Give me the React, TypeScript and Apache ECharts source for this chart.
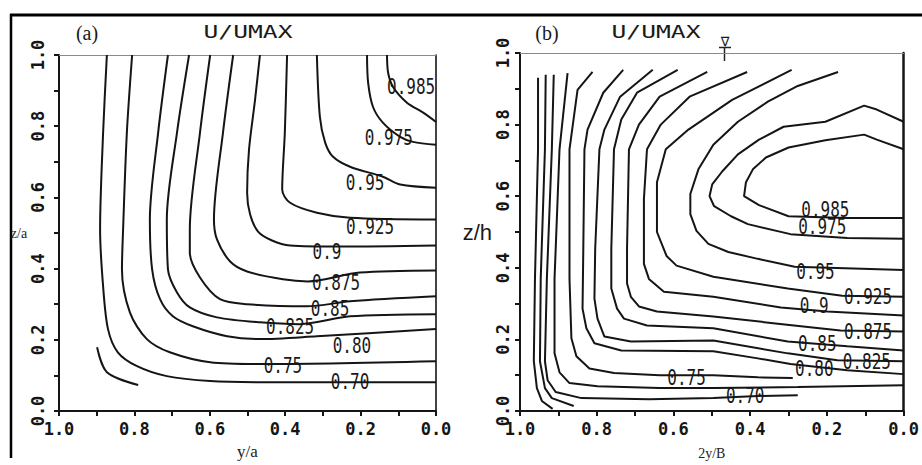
import React, { useEffect, useRef } from "react";
import * as echarts from "echarts";

// ---------- tick labels ----------
const tickLabels = ["0.0", "0.2", "0.4", "0.6", "0.8", "1.0"];

// ---------- panel (a): contour lines  [y/a, z/a] ----------
const a070 = [[0.873,1.0],[0.883,0.782],[0.891,0.510],[0.883,0.350],[0.870,0.230],[0.844,0.165],[0.793,0.126],[0.714,0.098],[0.599,0.084],[0.467,0.081],[0,0.081]];
const a075 = [[0.806,1.0],[0.820,0.782],[0.830,0.510],[0.833,0.398],[0.812,0.277],[0.767,0.202],[0.706,0.165],[0.599,0.137],[0.467,0.132],[0,0.140]];
const a080 = [[0.711,1.0],[0.737,0.782],[0.759,0.538],[0.753,0.398],[0.732,0.314],[0.698,0.266],[0.645,0.238],[0.554,0.210],[0.467,0.202],[0.316,0.210],[0,0.230]];
const a0825 = [[0.655,1.0],[0.687,0.782],[0.714,0.538],[0.711,0.398],[0.687,0.333],[0.653,0.291],[0.581,0.263],[0.467,0.249],[0.361,0.244],[0.228,0.266],[0,0.272]];
const a085 = [[0.599,1.0],[0.626,0.782],[0.653,0.510],[0.653,0.445],[0.626,0.375],[0.573,0.314],[0.501,0.300],[0.342,0.294],[0.228,0.308],[0,0.322]];
const a0875 = [[0.538,1.0],[0.565,0.782],[0.589,0.538],[0.581,0.482],[0.546,0.420],[0.501,0.392],[0.406,0.370],[0.340,0.364],[0.202,0.389],[0,0.395]];
const a090 = [[0.467,1.0],[0.480,0.874],[0.496,0.734],[0.501,0.613],[0.493,0.552],[0.472,0.504],[0.435,0.479],[0.387,0.465],[0.255,0.462],[0,0.465]];
const a0925 = [[0.395,1.0],[0.401,0.782],[0.408,0.622],[0.387,0.585],[0.316,0.557],[0.228,0.543],[0,0.538]];
const a095 = [[0.316,1.0],[0.308,0.826],[0.294,0.754],[0.273,0.714],[0.228,0.686],[0.141,0.658],[0.095,0.636],[0,0.627]];
const a0975 = [[0.183,1.0],[0.180,0.922],[0.167,0.854],[0.141,0.810],[0.095,0.770],[0.061,0.756],[0,0.748]];
const a0985 = [[0.130,1.0],[0.127,0.950],[0.114,0.910],[0.077,0.866],[0.034,0.838],[0,0.812]];
const aCorner = [[0.899,0.179],[0.873,0.109],[0.790,0.073]];

const aLabelText = ["0.985","0.975","0.95","0.925","0.9","0.875","0.85","0.825","0.80","0.75","0.70"];
const aLabelPos = [[0.066,0.910],[0.125,0.768],[0.188,0.641],[0.175,0.518],[0.289,0.448],[0.265,0.361],[0.281,0.286],[0.387,0.238],[0.223,0.182],[0.406,0.126],[0.228,0.081]];

// ---------- panel (b): contour lines  [2y/B, z/h] ----------
const b1 = [[0.953,0.931],[0.953,0.731],[0.961,0.369],[0.964,0.139],[0.956,0.064],[0.943,0.028],[0.915,0.006]];
const b2 = [[0.933,0.939],[0.935,0.731],[0.946,0.369],[0.948,0.139],[0.935,0.064],[0.917,0.036],[0.860,0.014]];
const b070 = [[0.912,0.939],[0.917,0.731],[0.930,0.369],[0.935,0.139],[0.928,0.086],[0.907,0.053],[0.840,0.036],[0.664,0.033],[0.496,0.036],[0.380,0.042],[0.276,0.044]];
const b4 = [[0.876,0.944],[0.897,0.731],[0.910,0.369],[0.910,0.161],[0.897,0.108],[0.871,0.078],[0.798,0.069],[0.636,0.064],[0.496,0.064],[0.276,0.067],[0,0.072]];
const b075 = [[0.811,0.947],[0.850,0.897],[0.871,0.731],[0.871,0.369],[0.866,0.203],[0.853,0.153],[0.819,0.119],[0.755,0.106],[0.636,0.100],[0.496,0.100],[0.380,0.094],[0.289,0.092]];
const b080 = [[0.731,0.953],[0.783,0.889],[0.824,0.786],[0.832,0.731],[0.835,0.453],[0.837,0.286],[0.827,0.231],[0.806,0.189],[0.736,0.169],[0.496,0.167],[0.380,0.147],[0.295,0.131],[0.147,0.114],[0,0.103]];
const b0825 = [[0.654,0.953],[0.739,0.878],[0.780,0.786],[0.793,0.731],[0.804,0.453],[0.806,0.314],[0.798,0.258],[0.780,0.208],[0.711,0.194],[0.496,0.197],[0.302,0.161],[0.173,0.142],[0,0.139]];
const b085 = [[0.589,0.953],[0.695,0.889],[0.736,0.814],[0.755,0.731],[0.762,0.453],[0.762,0.342],[0.747,0.286],[0.729,0.258],[0.669,0.239],[0.496,0.231],[0.302,0.194],[0.147,0.181],[0,0.169]];
const b0875 = [[0.512,0.947],[0.636,0.878],[0.690,0.800],[0.716,0.731],[0.721,0.453],[0.721,0.356],[0.711,0.319],[0.690,0.292],[0.643,0.278],[0.496,0.264],[0.328,0.244],[0.165,0.225],[0,0.222]];
const b090 = [[0.408,0.947],[0.558,0.878],[0.633,0.800],[0.669,0.731],[0.677,0.592],[0.677,0.411],[0.664,0.369],[0.625,0.333],[0.496,0.319],[0.320,0.289],[0.199,0.278],[0,0.267]];
const b0925 = [[0.292,0.953],[0.447,0.869],[0.561,0.786],[0.620,0.731],[0.643,0.639],[0.643,0.500],[0.618,0.433],[0.592,0.406],[0.496,0.375],[0.302,0.342],[0.160,0.322],[0,0.319]];
const b095 = [[0.171,0.947],[0.276,0.908],[0.354,0.864],[0.432,0.808],[0.496,0.744],[0.535,0.675],[0.556,0.606],[0.556,0.550],[0.540,0.503],[0.509,0.467],[0.457,0.444],[0.380,0.425],[0.284,0.403],[0,0.394]];
const b0975 = [[0,0.808],[0.070,0.842],[0.103,0.853],[0.204,0.808],[0.313,0.794],[0.377,0.758],[0.432,0.717],[0.473,0.669],[0.499,0.633],[0.506,0.600],[0.494,0.572],[0.450,0.544],[0.406,0.522],[0.295,0.494],[0.147,0.483],[0,0.481]];
const b0985 = [[0,0.731],[0.070,0.758],[0.103,0.772],[0.204,0.756],[0.300,0.736],[0.359,0.708],[0.393,0.675],[0.411,0.639],[0.416,0.600],[0.377,0.575],[0.300,0.544],[0.147,0.539],[0,0.539]];

const bLabelText = ["0.985","0.975","0.95","0.925","0.9","0.875","0.85","0.825","0.80","0.75","0.70"];
const bLabelPos = [[0.204,0.561],[0.212,0.514],[0.230,0.389],[0.093,0.319],[0.233,0.294],[0.093,0.222],[0.225,0.189],[0.096,0.139],[0.233,0.119],[0.566,0.092],[0.413,0.042]];

const aLines = [a070, a075, a080, a0825, a085, a0875, a090, a0925, a095, a0975, a0985, aCorner];
const bLines = [b1, b2, b070, b4, b075, b080, b0825, b085, b0875, b090, b0925, b095, b0975, b0985];

const INK = "#151515";
const MONO = "'DejaVu Sans Mono', monospace";

const tickFmt = (v: number) => {
  const s = v.toFixed(1);
  return tickLabels.includes(s) && Math.abs(v * 5 - Math.round(v * 5)) < 1e-6 ? s : "";
};

function bottomX(gridIndex: number, name: string, nameGap: number, nameSize: number) {
  return {
    gridIndex, type: "value", min: 0, max: 1, interval: 0.1, inverse: true, position: "bottom",
    axisLine: { show: true, onZero: false, lineStyle: { color: INK, width: 2 } },
    axisTick: { show: true, inside: false, length: 5, lineStyle: { color: INK, width: 2 } },
    axisLabel: { formatter: tickFmt, fontFamily: MONO, fontWeight: "bold", fontSize: 17, color: INK, margin: 9 },
    splitLine: { show: false },
    name, nameLocation: "middle", nameGap,
    nameTextStyle: { fontFamily: "'Liberation Serif', serif", fontSize: nameSize, color: "#222" },
  };
}
function topX(gridIndex: number) {
  return {
    gridIndex, type: "value", min: 0, max: 1, inverse: true, position: "top",
    axisLine: { show: true, onZero: false, lineStyle: { color: "#8a8a8a", width: 1.2 } },
    axisTick: { show: false }, axisLabel: { show: false }, splitLine: { show: false },
  };
}
function leftY(gridIndex: number, name: string, nameGap: number, nameStyle: any, margin: number) {
  return {
    gridIndex, type: "value", min: 0, max: 1, interval: 0.1, position: "left",
    axisLine: { show: true, onZero: false, lineStyle: { color: INK, width: 2 } },
    axisTick: { show: true, inside: false, length: 5, lineStyle: { color: INK, width: 2 } },
    axisLabel: { formatter: tickFmt, rotate: 90, fontFamily: MONO, fontWeight: "bold", fontSize: 17, color: INK, margin },
    splitLine: { show: false },
    name, nameLocation: "middle", nameRotate: 0, nameGap, nameTextStyle: nameStyle,
  };
}
function rightY(gridIndex: number, width: number) {
  return {
    gridIndex, type: "value", min: 0, max: 1, position: "right",
    axisLine: { show: true, onZero: false, lineStyle: { color: INK, width } },
    axisTick: { show: false }, axisLabel: { show: false }, splitLine: { show: false },
  };
}

function lineSeries(data: number[][], axis: number, smooth: number | boolean) {
  return {
    type: "line", xAxisIndex: axis, yAxisIndex: axis, data, showSymbol: false, smooth,
    silent: true, lineStyle: { color: INK, width: 2 },
  };
}

function labelSeries(pos: number[][], texts: string[], axis: number) {
  return {
    type: "custom", xAxisIndex: axis, yAxisIndex: axis, silent: true, clip: false,
    data: pos.map((p, i) => [p[0], p[1], i]),
    renderItem: (params: any, api: any) => {
      const c = api.coord([api.value(0), api.value(1)]);
      return {
        type: "text", x: c[0], y: c[1], scaleX: 1, scaleY: 1.3,
        style: {
          text: texts[api.value(2)], x: 0, y: 0,
          font: `16px ${MONO}`, fill: "#1a1a1a",
          align: "center", verticalAlign: "middle",
          textAlign: "center", textVerticalAlign: "middle",
        },
      };
    },
  };
}

function txt(x: number, y: number, text: string, font: string, extra: any = {}) {
  return {
    type: "text", x, y, silent: true, ...extra,
    style: { text, font, fill: "#1a1a1a", align: "center", verticalAlign: "middle", textAlign: "center", textVerticalAlign: "middle" },
  };
}

export default function App() {
  const ref = useRef<HTMLDivElement>(null);
  useEffect(() => {
    if (!ref.current) return;
    const chart = echarts.init(ref.current, undefined, { renderer: "svg" });
    const option: any = {
      animation: false,
      backgroundColor: "#ffffff",
      grid: [
        { left: 59, top: 55, width: 377, height: 357, show: false },
        { left: 520, top: 53, width: 387, height: 360, show: false },
      ],
      xAxis: [
        bottomX(0, "y/a", 32, 17),
        topX(0),
        bottomX(1, "2y/B", 35, 14),
        topX(1),
      ],
      yAxis: [
        leftY(0, "z/a", 31, { fontFamily: "'Liberation Serif', serif", fontSize: 14, color: "#222" }, 13),
        rightY(0, 1.6),
        leftY(1, "z/h", 9, { fontFamily: "'Liberation Sans', sans-serif", fontSize: 22, color: "#1a1a1a" }, 9),
        rightY(1, 2.5),
      ],
      series: [
        ...aLines.map((d) => lineSeries(d, 0, 0.3)),
        ...bLines.map((d) => lineSeries(d, 2, false)),
        labelSeries(aLabelPos, aLabelText, 0),
        labelSeries(bLabelPos, bLabelText, 2),
      ],
      graphic: [
        { type: "line", silent: true, shape: { x1: 10, y1: 15, x2: 922, y2: 15 }, style: { stroke: "#000", lineWidth: 3 } },
        { type: "line", silent: true, shape: { x1: 11, y1: 14, x2: 11, y2: 458 }, style: { stroke: "#000", lineWidth: 2.5 } },
        txt(87, 33, "(a)", "20px 'Liberation Serif', serif"),
        txt(248, 32, "U/UMAX", `17px ${MONO}`, { scaleX: 1.45 }),
        txt(547, 33, "(b)", "20px 'Liberation Serif', serif"),
        txt(656, 32, "U/UMAX", `17px ${MONO}`, { scaleX: 1.45 }),
        txt(725, 41, "∇", "13px 'DejaVu Sans', sans-serif"),
        { type: "line", silent: true, shape: { x1: 719, y1: 47.5, x2: 731, y2: 47.5 }, style: { stroke: "#222", lineWidth: 1.5 } },
        { type: "line", silent: true, shape: { x1: 724.5, y1: 47, x2: 724.5, y2: 61 }, style: { stroke: "#222", lineWidth: 1.5 } },
      ],
    };
    chart.setOption(option);
    return () => chart.dispose();
  }, []);
  return (
    <div
      ref={ref}
      style={{ position: "fixed", left: 0, top: 0, width: 922, height: 465, background: "#fff" }}
    />
  );
}
